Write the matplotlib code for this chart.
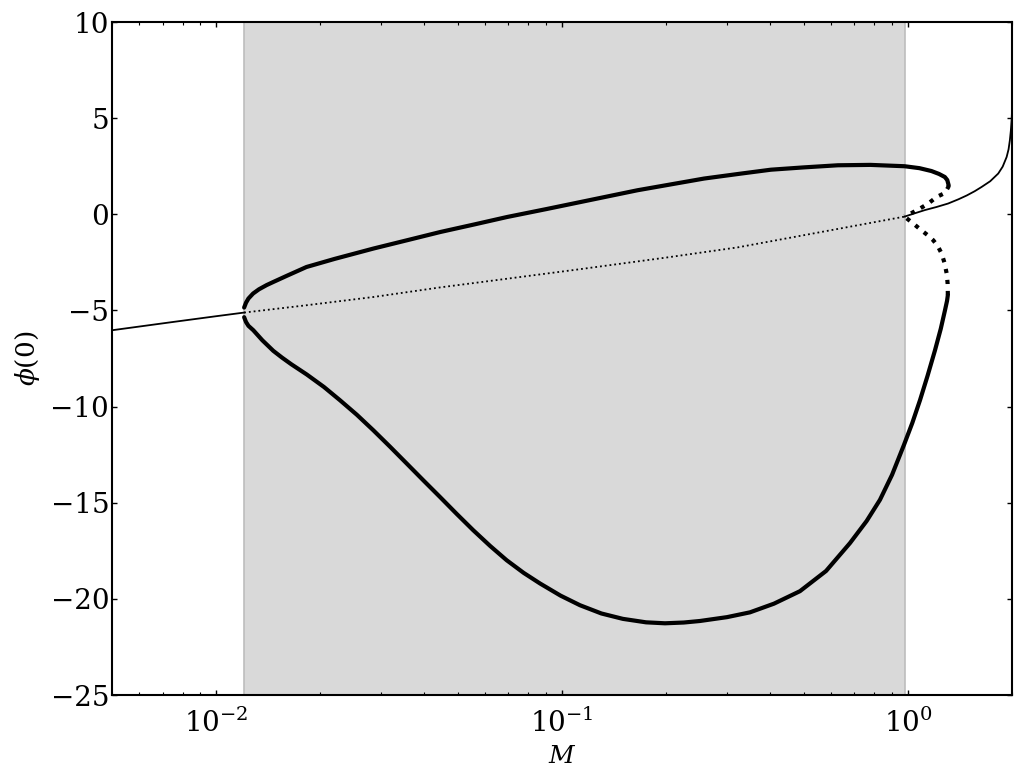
import matplotlib
matplotlib.use("Agg")
import matplotlib.pyplot as plt
import numpy as np

plt.rcParams['font.family'] = 'DejaVu Serif'
plt.rcParams['mathtext.fontset'] = 'dejavuserif'

# shaded region (M range)
band_lo, band_hi = 0.012, 0.98

# thin solid branch, left of the band
left_M = [0.005, 0.0075, 0.0100, 0.01205]
left_phi = [-6.03, -5.60, -5.30, -5.11]

# thin dotted branch through the band
mid_M = [0.01205, 0.01825, 0.02851, 0.04449, 0.06938, 0.1132, 0.20, 0.322, 0.55, 0.978]
mid_phi = [-5.11, -4.73, -4.30, -3.80, -3.35, -2.85, -2.25, -1.72, -0.95, -0.12]

# thin solid branch, right of the band
right_M = [0.978, 1.05, 1.12, 1.21, 1.307, 1.40, 1.48, 1.56, 1.633, 1.73, 1.825,
           1.88, 1.93, 1.955, 1.972, 1.985, 1.995, 2.002, 2.01, 2.03]
right_phi = [-0.12, 0.06, 0.22, 0.38, 0.56, 0.78, 0.98, 1.20, 1.42, 1.72, 2.12,
             2.48, 2.98, 3.38, 3.85, 4.35, 4.89, 5.5, 6.5, 10.0]

# thick solid upper branch
up_M = [0.01205, 0.0122, 0.0124, 0.01279, 0.0133, 0.0140, 0.01463, 0.0160, 0.01825,
        0.0220, 0.02851, 0.0360, 0.04449, 0.0560, 0.06938, 0.090, 0.1132, 0.1652,
        0.2576, 0.33, 0.4018, 0.50, 0.6275, 0.78, 0.9788, 1.08, 1.170, 1.23, 1.279,
        1.300, 1.312]
up_phi = [-4.85, -4.60, -4.38, -4.12, -3.90, -3.68, -3.52, -3.20, -2.74,
          -2.32, -1.78, -1.33, -0.92, -0.52, -0.14, 0.27, 0.64, 1.25,
          1.86, 2.12, 2.32, 2.44, 2.55, 2.57, 2.50, 2.40, 2.25, 2.10, 1.94,
          1.78, 1.51]

# thick dotted piece from the upper turning point
upd_M = [1.312, 1.309, 1.280, 1.211, 1.145, 1.084, 1.026, 0.978]
upd_phi = [1.51, 1.42, 1.11, 0.90, 0.56, 0.30, 0.07, -0.10]

# thick solid lower branch
lo_M = [0.01205, 0.0122, 0.0124, 0.01281, 0.0136, 0.01463, 0.0155, 0.0165, 0.01828, 0.0205,
        0.02281, 0.0255, 0.02847, 0.0318, 0.03556, 0.0398, 0.04438, 0.0496, 0.05538,
        0.0620, 0.06918, 0.0775, 0.0864, 0.099, 0.1127, 0.130, 0.150, 0.175, 0.1985,
        0.225, 0.2506, 0.30, 0.3496, 0.41, 0.4875, 0.58, 0.6801, 0.76, 0.8304, 0.90,
        0.974, 1.03, 1.084, 1.14, 1.198, 1.245, 1.280, 1.298, 1.305]
lo_phi = [-5.35, -5.60, -5.80, -6.03, -6.55, -7.10, -7.45, -7.80, -8.33, -8.98,
          -9.67, -10.42, -11.23, -12.08, -12.96, -13.85, -14.70, -15.58, -16.43,
          -17.25, -17.99, -18.65, -19.20, -19.83, -20.33, -20.76, -21.04, -21.22, -21.27,
          -21.23, -21.15, -20.95, -20.70, -20.25, -19.60, -18.55, -17.10, -15.95, -14.85, -13.55,
          -12.00, -10.85, -9.67, -8.40, -7.07, -5.95, -5.00, -4.50, -4.20]

# thick dotted piece from the lower turning point
lod_M = [1.305, 1.303, 1.295, 1.275, 1.252, 1.22, 1.184, 1.14, 1.094, 1.04, 0.978]
lod_phi = [-4.20, -3.60, -3.08, -2.50, -2.04, -1.65, -1.35, -1.08, -0.83, -0.50, -0.12]

fig = plt.figure(figsize=(10.22, 7.81), dpi=100)
ax = fig.add_axes([0.1096, 0.1101, 0.8806, 0.8617])

ax.axvspan(band_lo, band_hi, facecolor='#d9d9d9', edgecolor='#bdbdbd', lw=1.2, zorder=0)

ax.plot(left_M, left_phi, color='k', lw=1.3)
ax.plot(mid_M, mid_phi, color='k', lw=1.3, ls=':')
ax.plot(right_M, right_phi, color='k', lw=1.3)
ax.plot(up_M, up_phi, color='k', lw=3, solid_capstyle='round', solid_joinstyle='round')
ax.plot(upd_M, upd_phi, color='k', lw=3, ls=':')
ax.plot(lo_M, lo_phi, color='k', lw=3, solid_capstyle='round', solid_joinstyle='round')
ax.plot(lod_M, lod_phi, color='k', lw=3, ls=':')

ax.set_xscale('log')
ax.set_xlim(0.005, 2.0)
ax.set_ylim(-25, 10)
ax.set_yticks(np.arange(-25, 11, 5))
ax.tick_params(which='both', direction='in', top=True, right=True, labelsize=20)
ax.tick_params(which='major', length=3.5, width=1)
ax.tick_params(which='minor', length=2, width=0.8)
ax.tick_params(axis='x', pad=10)
ax.tick_params(axis='y', pad=2)

for s in ax.spines.values():
    s.set_linewidth(1.5)

ax.set_xlabel('$M$', fontsize=18, labelpad=5)
ax.set_ylabel(r'$\phi(0)$', fontsize=19, labelpad=6)

fig.savefig('out.png', dpi=100)
